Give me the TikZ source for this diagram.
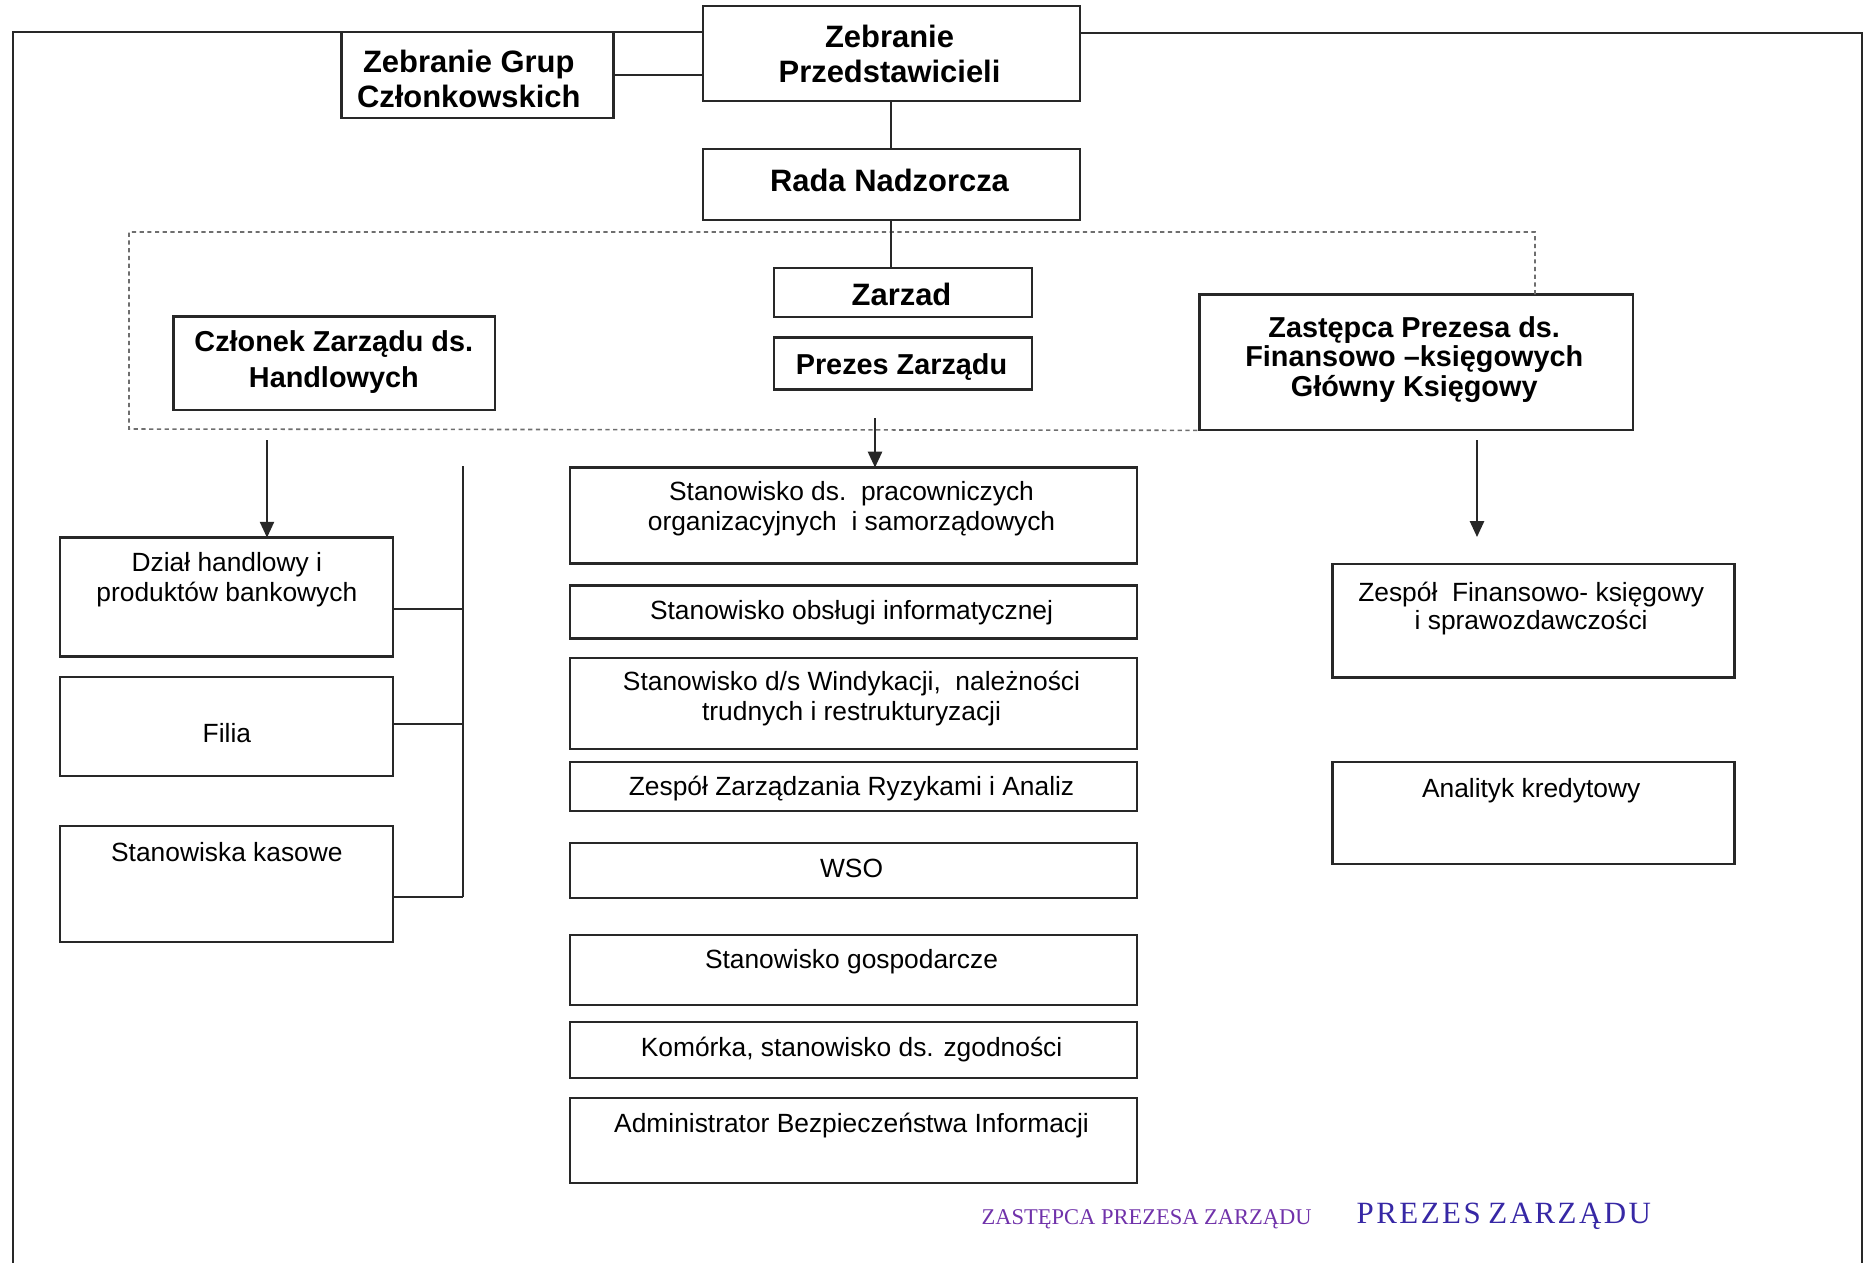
\documentclass[tikz,border=0pt]{standalone}
\usepackage{fontspec}
\setmainfont{Liberation Sans}
\newfontfamily\stampfont{Liberation Serif}
\usetikzlibrary{arrows.meta}
\definecolor{inkline}{RGB}{40,40,40}
\definecolor{dashgray}{RGB}{110,110,110}
\definecolor{stamppurple}{RGB}{112,50,170}
\definecolor{stampblue}{RGB}{55,40,165}
\tikzset{
  box/.style={draw=inkline, line width=0.65pt, rectangle, inner sep=0pt, outer sep=0pt},
  conn/.style={draw=inkline, line width=0.6pt},
  framel/.style={draw=inkline, line width=0.7pt},
  dashl/.style={draw=dashgray, line width=0.45pt, dash pattern=on 1.2pt off 1pt},
  arr/.style={draw=inkline, line width=0.6pt, -{Triangle[length=4.5pt,width=4pt]}},
  bolda/.style={font=\fontsize{8.8}{10.2}\selectfont\bfseries, align=center, inner sep=0pt},
  boldb/.style={font=\fontsize{8.2}{10.2}\selectfont\bfseries, align=center, inner sep=0pt},
  boldc/.style={font=\fontsize{8.2}{8.5}\selectfont\bfseries, align=center, inner sep=0pt},
  reg/.style={font=\fontsize{7.5}{8.5}\selectfont, align=center, inner sep=0pt},
  regb/.style={font=\fontsize{7.5}{8.0}\selectfont, align=center, inner sep=0pt},
  stampa/.style={font=\stampfont\fontsize{6.4}{7}\selectfont, text=stamppurple, inner sep=0pt, anchor=base west},
  stampb/.style={font=\stampfont\fontsize{8.8}{9}\selectfont, text=stampblue, inner sep=0pt, anchor=base west},
}
% box from pixel corners (x1,y1)-(x2,y2)
\newcommand\obox[5]{\node[box, minimum width={(#4-#2)*0.01cm}, minimum height={(#5-#3)*0.01cm}] (#1) at ({(#2+#4)*0.005},{-(#3+#5)*0.005}) {};}
% text at pixel x, last-line baseline y
\newcommand\otxt[5]{\node[#4, anchor=base] (#1) at ({#2*0.01},{-#3*0.01}) {#5};}
\begin{document}
\begin{tikzpicture}
\useasboundingbox (0,0) rectangle (18.74,-12.63);

% boxes
\obox{zgc}{341}{32}{613}{118}
\obox{zp}{702}{6}{1079}{101}
\obox{rada}{702}{149}{1079}{220}
\obox{zarzad}{773}{268}{1031}{317}
\obox{prezes}{773}{337}{1031}{389}
\obox{czlonek}{173}{316}{495}{410}
\obox{zastepca}{1198}{294}{1632}{430}
\obox{dzial}{60}{537}{393}{656}
\obox{filia}{60}{676}{393}{775}
\obox{kasowe}{60}{825}{393}{941}
\obox{ma}{569}{467}{1136}{563}
\obox{mb}{569}{585}{1136}{638}
\obox{mc}{569}{657}{1136}{748}
\obox{md}{569}{761}{1136}{810}
\obox{me}{569}{842}{1136}{897}
\obox{mf}{569}{934}{1136}{1004}
\obox{mg}{569}{1021}{1136}{1077}
\obox{mh}{569}{1097}{1136}{1182}
\obox{zfin}{1331}{563}{1733}{677}
\obox{anal}{1331}{761}{1733}{863}

% texts
\otxt{zgct}{469}{108}{bolda}{Zebranie Grup\\Członkowskich}
\otxt{zpt}{890}{83}{bolda}{Zebranie\\Przedstawicieli}
\otxt{radat}{890}{192}{bolda}{Rada Nadzorcza}
\otxt{zarzadt}{902}{306}{bolda}{Zarzad}
\otxt{prezest}{902}{375}{boldb}{Prezes Zarządu}
\otxt{czlonekt}{334}{388}{boldb}{Członek Zarządu ds.\\Handlowych}
\otxt{zastepcat}{1415}{397}{boldc}{Zastępca Prezesa ds.\\Finansowo –księgowych\\Główny Księgowy}
\otxt{dzialt}{227}{602}{reg}{Dział handlowy i\\produktów bankowych}
\otxt{filiat}{227}{743}{reg}{Filia}
\otxt{kasowet}{227}{862}{reg}{Stanowiska kasowe}
\otxt{mat}{852}{531}{reg}{Stanowisko ds.\ \ pracowniczych\\organizacyjnych\ \ i samorządowych}
\otxt{mbt}{852}{620}{reg}{Stanowisko obsługi informatycznej}
\otxt{mct}{852}{721}{reg}{Stanowisko d/s Windykacji,\ \ należności\\trudnych i restrukturyzacji}
\otxt{mdt}{852}{796}{reg}{Zespół Zarządzania Ryzykami i Analiz}
\otxt{met}{852}{878}{reg}{WSO}
\otxt{mft}{852}{969}{reg}{Stanowisko gospodarcze}
\otxt{mgt}{852}{1057}{reg}{Komórka, stanowisko ds. zgodności}
\otxt{mht}{852}{1133}{reg}{Administrator Bezpieczeństwa Informacji}
\otxt{zfint}{1532}{630}{regb}{Zespół\ \ Finansowo- księgowy\\i sprawozdawczości}
\otxt{analt}{1532}{798}{reg}{Analityk kredytowy}

% outer frame
\draw[framel] (zp.west |- 0,-0.32) -- (0.13,-0.32) -- (0.13,-12.63);
\draw[framel] (zp.east |- 0,-0.33) -- (18.62,-0.33) -- (18.62,-12.63);

% dashed management frame
\draw[dashl] (15.35,0 |- zastepca.north) -- (15.35,-2.32) -- (1.29,-2.32) -- (1.29,-4.29) -- (zastepca.south west);

% connectors
\draw[conn] (zgc.east) -- (zgc.east -| zp.west);
\draw[conn] (zp.south) -- (rada.north);
\draw[conn] (rada.south) -- (rada.south |- zarzad.north);

\coordinate (al) at (2.67,-4.40);
\draw[arr] (al) -- (al |- dzial.north);
\coordinate (am) at (8.75,-4.18);
\draw[arr] (am) -- (am |- ma.north);
\coordinate (ar) at (14.77,-4.40);
\coordinate (are) at (14.77,-5.37);
\draw[arr] (ar) -- (are);

% bracket of the left column
\coordinate (bt) at (4.63,-4.66);
\coordinate (b1) at (4.63,-6.09);
\coordinate (b2) at (4.63,-7.24);
\coordinate (b3) at (4.63,-8.97);
\draw[conn] (bt) -- (b3);
\draw[conn] (b1 -| dzial.east) -- (b1);
\draw[conn] (b2 -| filia.east) -- (b2);
\draw[conn] (b3 -| kasowe.east) -- (b3);

% stamps
\node[stampa] (st1) at (9.81,-12.24) {ZASTĘPCA PREZESA ZARZĄDU};
\node[stampb] (st2) at (13.56,-12.23) {P\kern0.7pt R\kern0.7pt E\kern0.7pt Z\kern0.7pt E\kern0.7pt S\ Z\kern0.7pt A\kern0.7pt R\kern0.7pt Z\kern0.7pt Ą\kern0.7pt D\kern0.7pt U};
\end{tikzpicture}
\end{document}
